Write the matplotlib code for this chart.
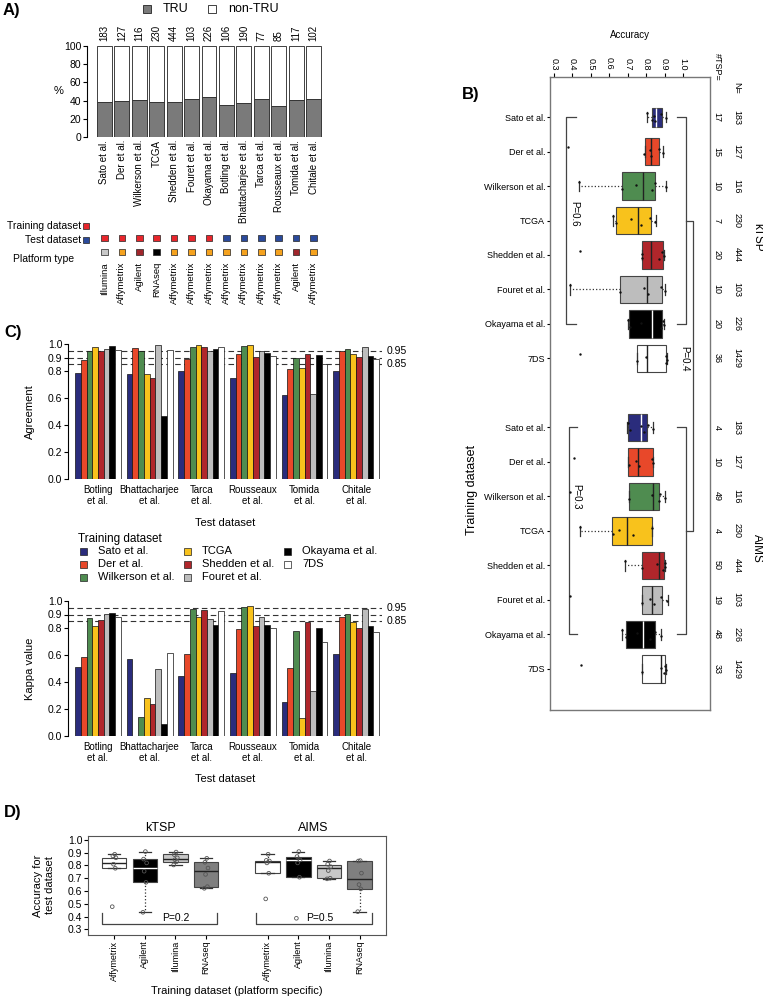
import numpy as np
import matplotlib
matplotlib.use('Agg')
import matplotlib.pyplot as plt
from matplotlib.patches import Rectangle

plt.rcParams['font.family'] = ['Liberation Sans', 'DejaVu Sans']

W, H = 763, 999


def rect(x0, y0, x1, y1):
    # pixel box -> figure fraction
    return [x0 / W, 1 - y1 / H, (x1 - x0) / W, (y1 - y0) / H]


# ---------------- data ----------------
cohorts = ['Sato et al.', 'Der et al.', 'Wilkerson et al.', 'TCGA', 'Shedden et al.',
           'Fouret et al.', 'Okayama et al.', 'Botling et al.', 'Bhattacharjee et al.',
           'Tarca et al.', 'Rousseaux et al.', 'Tomida et al.', 'Chitale et al.']
cohort_n = [183, 127, 116, 230, 444, 103, 226, 106, 190, 77, 85, 117, 102]
tru_pct = [38, 39.5, 40.5, 39, 38, 42, 43.5, 35, 37, 41.5, 34, 40.5, 41.5]
cohort_role = ['train'] * 7 + ['test'] * 6
cohort_platform = ['Illumina', 'Affymetrix', 'Agilent', 'RNAseq', 'Affymetrix', 'Affymetrix',
                   'Affymetrix', 'Affymetrix', 'Affymetrix', 'Affymetrix', 'Affymetrix',
                   'Agilent', 'Affymetrix']
role_colors = {'train': '#e8262c', 'test': '#2b4a9b'}
platform_colors = {'Illumina': '#c8c8c8', 'Affymetrix': '#f5a21e', 'Agilent': '#a0262c',
                   'RNAseq': '#000000'}

train_sets = ['Sato et al.', 'Der et al.', 'Wilkerson et al.', 'TCGA', 'Shedden et al.',
              'Fouret et al.', 'Okayama et al.', '7DS']
train_colors = ['#2a2c7c', '#e8482a', '#4f8c50', '#f8c21c', '#b0262b', '#bdbdbd', '#000000', '#ffffff']
test_sets = ['Botling\net al.', 'Bhattacharjee\net al.', 'Tarca\net al.',
             'Rousseaux\net al.', 'Tomida\net al.', 'Chitale\net al.']

# rows = test dataset, cols = training dataset
agreement = np.array([
    [0.788, 0.879, 0.951, 0.975, 0.948, 0.966, 0.985, 0.956],
    [0.778, 0.970, 0.951, 0.776, 0.751, 0.993, 0.470, 0.956],
    [0.798, 0.887, 0.975, 0.993, 0.975, 0.951, 0.966, 0.975],
    [0.746, 0.924, 0.983, 0.995, 0.906, 0.951, 0.936, 0.909],
    [0.621, 0.815, 0.899, 0.825, 0.929, 0.628, 0.919, 0.852],
    [0.800, 0.948, 0.966, 0.926, 0.904, 0.975, 0.914, 0.887],
])
kappa = np.array([
    [0.514, 0.588, 0.874, 0.812, 0.857, 0.906, 0.909, 0.879],
    [0.568, 0.000, 0.141, 0.284, 0.240, 0.496, 0.089, 0.617],
    [0.444, 0.605, 0.938, 0.884, 0.931, 0.864, 0.822, 0.928],
    [0.469, 0.790, 0.953, 0.963, 0.812, 0.879, 0.822, 0.802],
    [0.254, 0.501, 0.775, 0.133, 0.847, 0.333, 0.800, 0.694],
    [0.607, 0.884, 0.904, 0.844, 0.800, 0.943, 0.817, 0.768],
])

# panel B: (whislo, q1, med, q3, whishi)
ktsp_box = [
    (0.804, 0.831, 0.851, 0.884, 0.906),
    (0.791, 0.791, 0.824, 0.869, 0.893),
    (0.436, 0.668, 0.784, 0.848, 0.906),
    (0.621, 0.637, 0.753, 0.824, 0.853),
    (0.775, 0.775, 0.824, 0.889, 0.897),
    (0.387, 0.659, 0.806, 0.884, 0.904),
    (0.700, 0.706, 0.830, 0.884, 0.897),
    (0.752, 0.752, 0.804, 0.906, 0.915),
]
ktsp_points = [
    [0.805, 0.830, 0.840, 0.850, 0.880, 0.905],
    [0.378, 0.790, 0.820, 0.825, 0.870, 0.890],
    [0.436, 0.668, 0.745, 0.830, 0.848, 0.906],
    [0.620, 0.635, 0.720, 0.770, 0.820, 0.850],
    [0.440, 0.775, 0.780, 0.870, 0.885, 0.895],
    [0.387, 0.660, 0.790, 0.810, 0.880, 0.900],
    [0.700, 0.710, 0.770, 0.880, 0.890, 0.895],
    [0.441, 0.752, 0.800, 0.905, 0.910, 0.915],
]
aims_box = [
    (0.695, 0.703, 0.773, 0.802, 0.835),
    (0.703, 0.703, 0.753, 0.835, 0.835),
    (0.708, 0.708, 0.839, 0.871, 0.904),
    (0.441, 0.617, 0.694, 0.833, 0.833),
    (0.686, 0.779, 0.868, 0.895, 0.904),
    (0.779, 0.779, 0.830, 0.888, 0.917),
    (0.670, 0.690, 0.784, 0.846, 0.882),
    (0.779, 0.779, 0.882, 0.900, 0.906),
]
aims_points = [
    [0.700, 0.710, 0.770, 0.790, 0.810, 0.835],
    [0.410, 0.705, 0.745, 0.760, 0.830, 0.835],
    [0.389, 0.708, 0.830, 0.870, 0.875, 0.904],
    [0.441, 0.620, 0.650, 0.730, 0.833],
    [0.686, 0.780, 0.860, 0.890, 0.900, 0.904],
    [0.389, 0.780, 0.820, 0.840, 0.880, 0.915],
    [0.670, 0.690, 0.750, 0.820, 0.850, 0.880],
    [0.447, 0.780, 0.880, 0.895, 0.900, 0.905],
]
ktsp_ntsp = [17, 15, 10, 7, 20, 10, 20, 36]
aims_ntsp = [4, 10, 49, 4, 50, 19, 48, 33]
train_n = [183, 127, 116, 230, 444, 103, 226, 1429]

# panel D
platforms = ['Affymetrix', 'Agilent', 'Illumina', 'RNAseq']
platform_fill = ['#ffffff', '#000000', '#c8c8c8', '#7f7f7f']
d_ktsp_box = [
    (0.778, 0.778, 0.817, 0.861, 0.888),
    (0.433, 0.668, 0.783, 0.849, 0.909),
    (0.804, 0.830, 0.849, 0.888, 0.905),
    (0.621, 0.634, 0.757, 0.825, 0.856),
]
d_ktsp_points = [
    [0.477, 0.778, 0.810, 0.860, 0.875, 0.888],
    [0.433, 0.668, 0.755, 0.820, 0.850, 0.909],
    [0.804, 0.830, 0.845, 0.860, 0.885, 0.905],
    [0.621, 0.634, 0.730, 0.780, 0.825, 0.856],
]
d_aims_box = [
    (0.739, 0.739, 0.830, 0.838, 0.888),
    (0.708, 0.708, 0.843, 0.869, 0.909),
    (0.695, 0.700, 0.783, 0.804, 0.838),
    (0.438, 0.616, 0.694, 0.835, 0.838),
]
d_aims_points = [
    [0.538, 0.739, 0.820, 0.835, 0.840, 0.888],
    [0.386, 0.708, 0.820, 0.843, 0.870, 0.909],
    [0.695, 0.700, 0.760, 0.790, 0.810, 0.835],
    [0.438, 0.616, 0.650, 0.740, 0.835, 0.838],
]

fig = plt.figure(figsize=(W / 100, H / 100), dpi=100)

# ---------------- A ----------------
axA = fig.add_axes(rect(87, 46, 324, 137))
xa = np.arange(len(cohorts))
axA.bar(xa, tru_pct, width=0.85, color='#7a7a7a', edgecolor='#222222', lw=0.6)
axA.bar(xa, 100 - np.array(tru_pct), bottom=tru_pct, width=0.85, color='white',
        edgecolor='#222222', lw=0.6)
axA.set_xlim(-1.0, 12.6)
axA.set_ylim(0, 100)
for s in ['top', 'right', 'bottom']:
    axA.spines[s].set_visible(False)
axA.spines['left'].set_bounds(0, 100)
axA.set_yticks([0, 20, 40, 60, 80, 100])
axA.tick_params(axis='y', labelsize=7.5, length=3, pad=1)
axA.set_xticks(xa)
axA.set_xticklabels(cohorts, rotation=90, fontsize=7)
axA.tick_params(axis='x', length=0, pad=2)
axA.set_ylabel('%', rotation=0, fontsize=8, labelpad=4, va='center')
for x, n in zip(xa, cohort_n):
    axA.text(x, 106, str(n), rotation=90, ha='center', va='bottom', fontsize=7)

axK = fig.add_axes(rect(87, 225, 324, 300))
axK.set_xlim(-1.0, 12.6)
axK.set_ylim(300, 225)
axK.axis('off')
axK.scatter(xa, [238] * len(xa), marker='s', s=22, c=[role_colors[r] for r in cohort_role],
            edgecolors='#222222', linewidths=0.5)
axK.scatter(xa, [252] * len(xa), marker='s', s=22, c=[platform_colors[p] for p in cohort_platform],
            edgecolors='#222222', linewidths=0.5)
for x, p in zip(xa, cohort_platform):
    axK.text(x, 262, p, rotation=90, ha='center', va='top', fontsize=6.8)

# ---------------- C ----------------
def bars(ax, vals):
    for g in range(vals.shape[0]):
        for j in range(vals.shape[1]):
            ax.bar(1 + g * 9 + j + 0.5, vals[g, j], width=1, color=train_colors[j],
                   edgecolor='#111111', lw=0.5)
    for v in [0.95, 0.90, 0.85]:
        ax.axhline(v, color='#333333', lw=0.8, ls=(0, (5, 3)), zorder=0.5)
    ax.set_xlim(-0.226, 54.5)
    ax.set_ylim(0, 1.0)
    for s in ['top', 'right', 'bottom']:
        ax.spines[s].set_visible(False)
    ax.set_yticks([0, 0.2, 0.4, 0.6, 0.8, 0.9, 1.0])
    ax.set_yticklabels(['0.0', '0.2', '0.4', '0.6', '0.8', '0.9', '1.0'])
    ax.tick_params(axis='y', labelsize=7.5, length=3, pad=1)
    ax.set_xticks([1 + g * 9 + 4 for g in range(6)])
    ax.set_xticklabels(test_sets, fontsize=7)
    ax.tick_params(axis='x', length=0, pad=4)
    ax.set_xlabel('Test dataset', fontsize=8, labelpad=8)
    ax.text(1.015, 0.95, '0.95', transform=ax.get_yaxis_transform(), fontsize=7.5, va='center')
    ax.text(1.015, 0.85, '0.85', transform=ax.get_yaxis_transform(), fontsize=7.5, va='center')


axC1 = fig.add_axes(rect(68, 344, 382, 479.3))
bars(axC1, agreement)
axC1.set_ylabel('Agreement', fontsize=8)
axC1.yaxis.set_label_coords(-0.105, 0.5)

axC2 = fig.add_axes(rect(68, 601, 382, 736))
bars(axC2, kappa)
axC2.set_ylabel('Kappa value', fontsize=8)
axC2.yaxis.set_label_coords(-0.105, 0.5)

# ---------------- B ----------------
def box_stats(rows):
    return [dict(whislo=r[0], q1=r[1], med=r[2], q3=r[3], whishi=r[4], fliers=[]) for r in rows]


axB = fig.add_axes(rect(550, 77, 710, 710))
pos_k = np.arange(1, 9)
pos_a = np.arange(10, 18)
jit = [-0.12, 0.08, -0.04, 0.12, -0.08, 0.04]
for rows, pts, pos, widths in [(ktsp_box, ktsp_points, pos_k, [0.55] + [0.8] * 7),
                               (aims_box, aims_points, pos_a, [0.8] * 8)]:
    bp = axB.bxp(box_stats(rows), positions=pos, widths=widths, orientation='horizontal',
                 patch_artist=True, showfliers=False, capwidths=0.3,
                 boxprops=dict(edgecolor='#444444', lw=0.8),
                 whiskerprops=dict(color='#333333', lw=0.9, ls=':'),
                 capprops=dict(color='#333333', lw=0.9),
                 medianprops=dict(lw=1.0))
    for k, (patch, med) in enumerate(zip(bp['boxes'], bp['medians'])):
        patch.set_facecolor(train_colors[k])
        med.set_color('white' if k in (0, 6) else '#222222')
    for k, p in enumerate(pts):
        axB.scatter(p, [pos[k] + jit[i % 6] for i in range(len(p))], s=3, c='#111111', zorder=5,
                    linewidths=0)

br = dict(color='#444444', lw=0.9, clip_on=False)
axB.plot([0.42, 0.367, 0.367, 0.42], [1, 1, 7, 7], **br)
axB.plot([0.965, 1.016, 1.016, 0.965], [1, 1, 7, 7], **br)
axB.plot([0.423, 0.381, 0.381, 0.423], [10, 10, 16, 16], **br)
axB.plot([0.965, 1.016, 1.016, 0.965], [10, 10, 16, 16], **br)
axB.plot([1.016, 1.055, 1.055, 1.016], [4, 4, 13, 13], **br)
axB.text(0.409, 3.8, 'P=0.6', rotation=-90, ha='center', va='center', fontsize=7)
axB.text(0.42, 12.0, 'P=0.3', rotation=-90, ha='center', va='center', fontsize=7)
axB.text(1.005, 8.0, 'P=0.4', rotation=-90, ha='center', va='center', fontsize=7)

axB.set_xlim(0.278, 1.1465)
axB.set_ylim(18.19, -0.16)
axB.xaxis.tick_top()
axB.xaxis.set_label_position('top')
axB.set_xticks(np.round(np.arange(0.3, 1.01, 0.1), 1))
axB.set_xticklabels([f'{v:.1f}' for v in np.arange(0.3, 1.01, 0.1)], rotation=-90)
axB.tick_params(axis='x', labelsize=6.5, length=3, pad=2)
axB.set_xlabel('Accuracy', fontsize=7, labelpad=14)
axB.set_yticks(list(pos_k) + list(pos_a))
axB.set_yticklabels(train_sets + train_sets, fontsize=6.5)
axB.tick_params(axis='y', length=2.5, pad=1)
for s in axB.spines.values():
    s.set_color('#777777')
    s.set_linewidth(1.0)
ty = axB.get_yaxis_transform()
axB.text(1.044, -0.45, '#TSP=', transform=ty, rotation=-90, ha='center', va='center', fontsize=6.5)
axB.text(1.169, 0.15, 'N=', transform=ty, rotation=-90, ha='center', va='center', fontsize=6.5)
for p, t, n in zip(pos_k, ktsp_ntsp, train_n):
    axB.text(1.044, p, str(t), transform=ty, rotation=-90, ha='center', va='center', fontsize=6.5)
    axB.text(1.169, p, str(n), transform=ty, rotation=-90, ha='center', va='center', fontsize=6.5)
for p, t, n in zip(pos_a, aims_ntsp, train_n):
    axB.text(1.044, p, str(t), transform=ty, rotation=-90, ha='center', va='center', fontsize=6.5)
    axB.text(1.169, p, str(n), transform=ty, rotation=-90, ha='center', va='center', fontsize=6.5)
axB.text(1.294, 4.5, 'kTSP', transform=ty, rotation=-90, ha='center', va='center', fontsize=8.5)
axB.text(1.294, 13.5, 'AIMS', transform=ty, rotation=-90, ha='center', va='center', fontsize=8.5)

# ---------------- D ----------------
axD = fig.add_axes(rect(88, 836, 386, 935))
pos_dk = [1, 2, 3, 4]
pos_da = [6, 7, 8, 9]
for rows, pts, pos in [(d_ktsp_box, d_ktsp_points, pos_dk), (d_aims_box, d_aims_points, pos_da)]:
    bp = axD.bxp(box_stats(rows), positions=pos, widths=0.8, patch_artist=True,
                 showfliers=False, capwidths=0.4,
                 boxprops=dict(edgecolor='#444444', lw=0.8),
                 whiskerprops=dict(color='#333333', lw=0.9, ls=':'),
                 capprops=dict(color='#333333', lw=0.9),
                 medianprops=dict(lw=1.0))
    for k, (patch, med) in enumerate(zip(bp['boxes'], bp['medians'])):
        patch.set_facecolor(platform_fill[k])
        med.set_color('white' if k == 1 else '#222222')
    for k, p in enumerate(pts):
        axD.scatter([pos[k] + 0.5 * jit[i % 6] for i in range(len(p))], p, s=7, facecolors='none',
                    edgecolors='#555555', linewidths=0.6, zorder=5)
axD.plot([0.6, 0.6, 4.35, 4.35], [0.428, 0.342, 0.342, 0.428], **br)
axD.plot([5.62, 5.62, 9.39, 9.39], [0.428, 0.342, 0.342, 0.428], **br)
axD.text(3.0, 0.39, 'P=0.2', ha='center', va='center', fontsize=7.5)
axD.text(7.7, 0.39, 'P=0.5', ha='center', va='center', fontsize=7.5)
axD.set_xlim(0.15, 9.86)
axD.set_ylim(0.255, 1.031)
axD.set_yticks(np.round(np.arange(0.3, 1.01, 0.1), 1))
axD.set_yticklabels([f'{v:.1f}' for v in np.arange(0.3, 1.01, 0.1)])
axD.tick_params(axis='y', labelsize=7.5, length=3, pad=1)
axD.set_xticks(pos_dk + pos_da)
axD.set_xticklabels(platforms + platforms, rotation=90, fontsize=6.5)
axD.tick_params(axis='x', length=3, pad=1)
for s in axD.spines.values():
    s.set_color('#555555')
axD.set_ylabel('Accuracy for\ntest dataset', fontsize=8)
axD.yaxis.set_label_coords(-0.112, 0.5)
axD.set_xlabel('Training dataset (platform specific)', fontsize=8, va='center')
axD.xaxis.set_label_coords(0.5, -0.57)
axD.text(2.5, 1.045, 'kTSP', ha='center', va='bottom', fontsize=9)
axD.text(7.5, 1.045, 'AIMS', ha='center', va='bottom', fontsize=9)

# ---------------- overlay: panel letters, legends, side labels ----------------
ov = fig.add_axes([0, 0, 1, 1])
ov.set_xlim(0, W)
ov.set_ylim(H, 0)
ov.axis('off')
for lab, x, y in [('A)', 3, 10), ('B)', 462, 95), ('C)', 4, 332), ('D)', 4, 812)]:
    ov.text(x, y, lab, fontsize=12, fontweight='bold', va='center', ha='left')

ov.add_patch(Rectangle((143, 5), 8, 8, facecolor='#7a7a7a', edgecolor='#222222', lw=0.6))
ov.text(163, 9.5, 'TRU', fontsize=9, va='center')
ov.add_patch(Rectangle((208, 5), 8, 8, facecolor='white', edgecolor='#222222', lw=0.6))
ov.text(228, 9.5, 'non-TRU', fontsize=9, va='center')

ov.text(81, 226, 'Training dataset', fontsize=7.5, ha='right', va='center')
ov.add_patch(Rectangle((82.5, 222.5), 6, 6, facecolor=role_colors['train'], edgecolor='#222222', lw=0.5))
ov.text(81, 240, 'Test dataset', fontsize=7.5, ha='right', va='center')
ov.add_patch(Rectangle((82.5, 236.5), 6, 6, facecolor=role_colors['test'], edgecolor='#222222', lw=0.5))
ov.text(13, 259, 'Platform type', fontsize=7.5, ha='left', va='center')

ov.text(78, 539, 'Training dataset', fontsize=8.5, ha='left', va='center')
leg_x = [80, 184, 284]
leg_y = [551, 564, 577]
for k, name in enumerate(train_sets):
    cx, cy = leg_x[k // 3], leg_y[k % 3]
    ov.add_patch(Rectangle((cx, cy - 3.5), 7, 7, facecolor=train_colors[k], edgecolor='#222222', lw=0.5))
    ov.text(cx + 18, cy, name, fontsize=8, ha='left', va='center')

ov.text(472, 490, 'Training dataset', fontsize=9, rotation=90, ha='center', va='center')

fig.savefig('out.png', dpi=100)
